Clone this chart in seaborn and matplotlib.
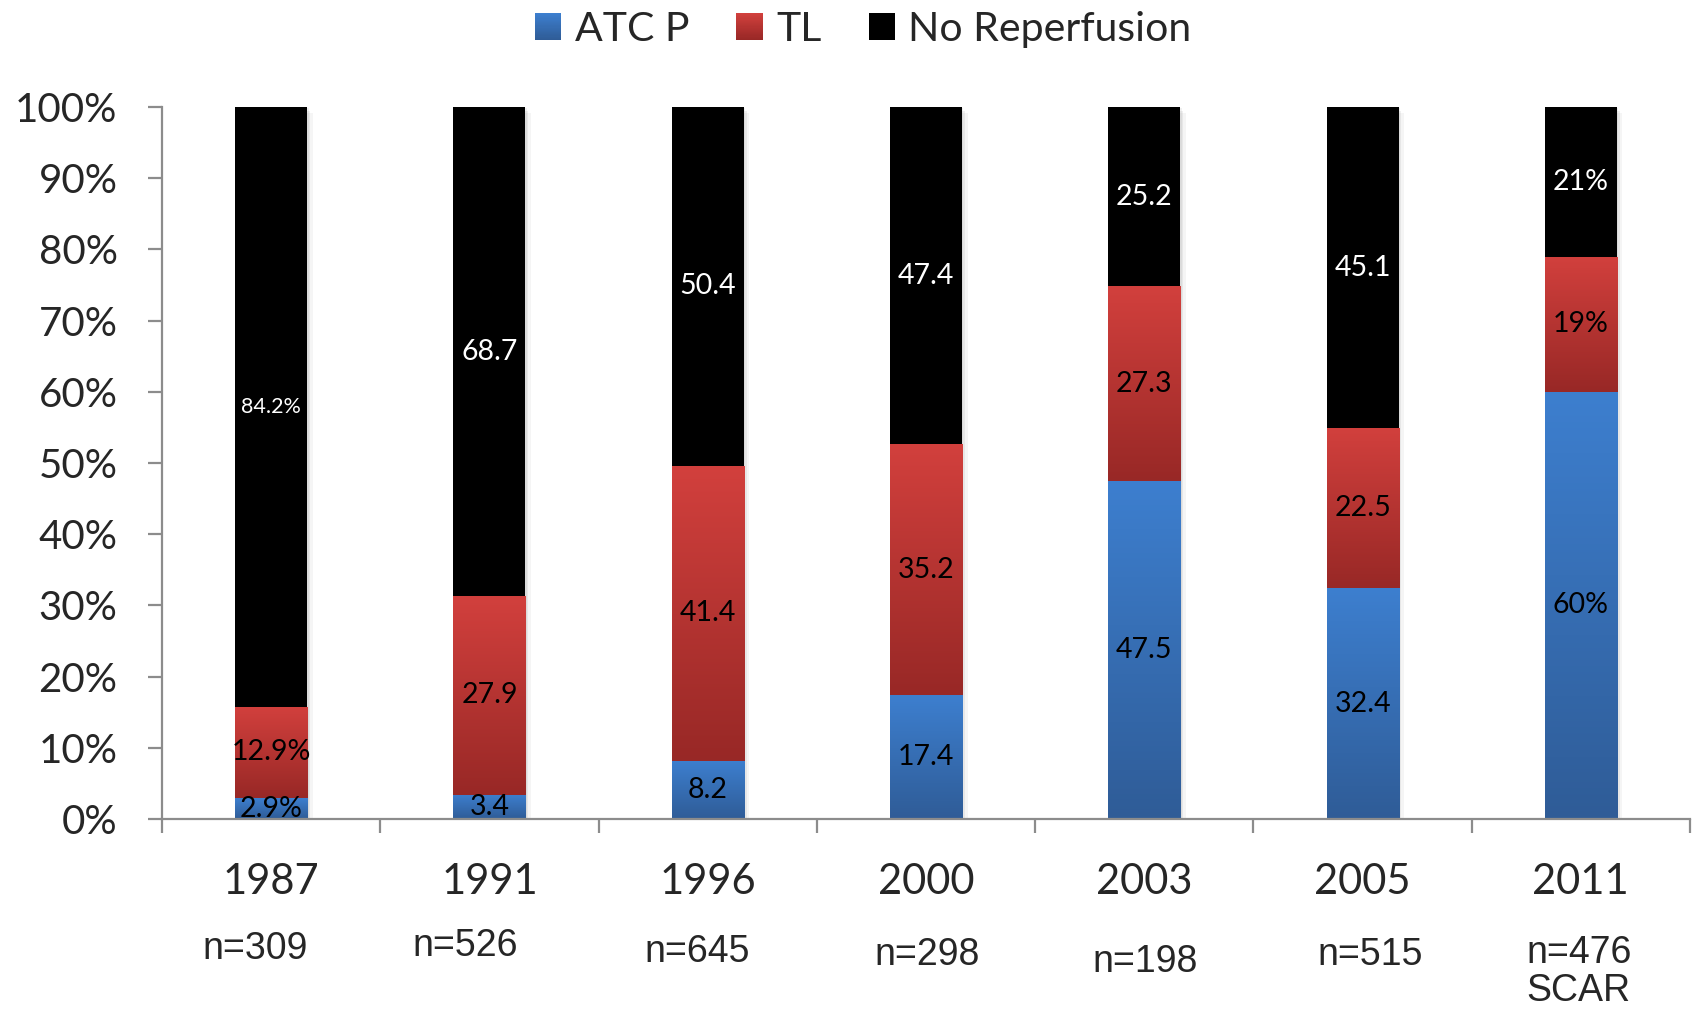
import numpy as np
import matplotlib
matplotlib.use("Agg")
import matplotlib.pyplot as plt
import seaborn as sns
import matplotlib.patheffects as pe
from matplotlib.colors import LinearSegmentedColormap
from matplotlib.patches import Patch, Rectangle
from matplotlib.legend_handler import HandlerBase
from matplotlib.transforms import blended_transform_factory

# ---- data -------------------------------------------------------------
years = ["1987", "1991", "1996", "2000", "2003", "2005", "2011"]
atc_p = [2.9, 3.4, 8.2, 17.4, 47.5, 32.4, 60]
tl = [12.9, 27.9, 41.4, 35.2, 27.3, 22.5, 19]
no_reperfusion = [84.2, 68.7, 50.4, 47.4, 25.2, 45.1, 21]
label_suffix = ["%", "", "", "", "", "", "%"]
sample_sizes = ["n=309", "n=526", "n=645", "n=298", "n=198", "n=515", "n=476\nSCAR"]
series_names = ["ATC P", "TL", "No Reperfusion"]
y_ticks = [0, 10, 20, 30, 40, 50, 60, 70, 80, 90, 100]

# ---- layout / style ---------------------------------------------------
n_x_shift = [-0.073, -0.11, -0.046, 0.005, 0.005, 0.037, -0.01]
n_y_px = [949, 946, 952, 955, 962, 955, 972]
FIG_W, FIG_H = 1696, 1010

sns.set_style("white")
plt.rcParams["font.family"] = ["Lato", "DejaVu Sans"]

blue_cmap = LinearSegmentedColormap.from_list("blue_grad", ["#2f5c97", "#3d7fcf"])
red_cmap = LinearSegmentedColormap.from_list("red_grad", ["#982826", "#d2403d"])

fig = plt.figure(figsize=(FIG_W / 100, FIG_H / 100), dpi=100)
ax = fig.add_axes([162 / FIG_W, 1 - 819 / FIG_H, 1528 / FIG_W, 712 / FIG_H])

bar_w = 0.33
totals = [a + b + c for a, b, c in zip(atc_p, tl, no_reperfusion)]

# soft shadow behind each full stack
sns.barplot(x=years, y=totals, color="white", width=bar_w, errorbar=None,
            ax=ax, zorder=1, linewidth=0)
shadow = ax.containers[-1]
for p in shadow:
    p.set_path_effects([
        pe.SimplePatchShadow(offset=(1, -1), shadow_rgbFace="#888888", alpha=0.12),
        pe.SimplePatchShadow(offset=(2, -3), shadow_rgbFace="#888888", alpha=0.12),
        pe.SimplePatchShadow(offset=(4, -4), shadow_rgbFace="#888888", alpha=0.08),
        pe.Normal(),
    ])

bottom1 = [0] * len(years)
bottom2 = list(atc_p)
bottom3 = [a + b for a, b in zip(atc_p, tl)]

sns.barplot(x=years, y=atc_p, bottom=bottom1, color="#3a78c4", width=bar_w,
            errorbar=None, ax=ax, zorder=2, linewidth=0)
c_atc = ax.containers[-1]
sns.barplot(x=years, y=tl, bottom=bottom2, color="#bf3733", width=bar_w,
            errorbar=None, ax=ax, zorder=2, linewidth=0)
c_tl = ax.containers[-1]
sns.barplot(x=years, y=no_reperfusion, bottom=bottom3, color="black", width=bar_w,
            errorbar=None, ax=ax, zorder=2, linewidth=0)
c_nr = ax.containers[-1]

# vertical gradient fill inside each coloured segment
grad = np.linspace(0, 1, 256).reshape(-1, 1)
for container, cmap in ((c_atc, blue_cmap), (c_tl, red_cmap)):
    for p in container:
        x0, y0, w, h = p.get_x(), p.get_y(), p.get_width(), p.get_height()
        im = ax.imshow(grad, extent=[x0, x0 + w, y0, y0 + h], origin="lower",
                       aspect="auto", cmap=cmap, zorder=3, interpolation="bilinear")
        im.set_clip_path(p)

# value labels
def make_labels(vals):
    return [f"{v:g}{s}" for v, s in zip(vals, label_suffix)]

ax.bar_label(c_atc, labels=make_labels(atc_p), label_type="center",
             fontsize=20.5, color="black", zorder=5)
ax.bar_label(c_tl, labels=make_labels(tl), label_type="center",
             fontsize=20.5, color="black", zorder=5)
nr_texts = ax.bar_label(c_nr, labels=make_labels(no_reperfusion), label_type="center",
                        fontsize=20.5, color="white", zorder=5)
nr_texts[0].set_fontsize(15.5)

# axes styling
ax.set_xlim(-0.5, len(years) - 0.5)
ax.set_ylim(0, 100)
ax.set_yticks(y_ticks)
ax.set_yticklabels([f"{t}%" for t in y_ticks])
ax.set_xlabel("")
ax.set_ylabel("")
ax.set_xticks(range(len(years)))
ax.set_xticklabels(years)
ax.set_xticks(np.arange(-0.5, len(years), 1.0), minor=True)

for side in ("top", "right"):
    ax.spines[side].set_visible(False)
for side in ("left", "bottom"):
    ax.spines[side].set_color("#8c8c8c")
    ax.spines[side].set_linewidth(1.6)
    ax.spines[side].set_zorder(6)

ax.tick_params(axis="y", which="major", direction="out", length=10, width=1.6,
               color="#8c8c8c", labelsize=29, pad=22, left=True)
ax.tick_params(axis="x", which="major", length=0, labelsize=30, pad=32, bottom=True)
ax.tick_params(axis="x", which="minor", direction="out", length=10, width=1.6,
               color="#8c8c8c", bottom=True)

# sample sizes under the year labels
trans = blended_transform_factory(ax.transData, fig.transFigure)
for i, (txt, dx, ypx) in enumerate(zip(sample_sizes, n_x_shift, n_y_px)):
    fig.text(i + dx, 1 - ypx / FIG_H, txt, transform=trans, ha="center", va="center",
             fontsize=27, family=["Liberation Sans", "DejaVu Sans"],
             multialignment="left", linespacing=1.05)


# legend with gradient swatches
class GradientHandler(HandlerBase):
    def __init__(self, cmap=None, solid=None):
        super().__init__()
        self.cmap = cmap
        self.solid = solid

    def create_artists(self, legend, orig_handle, xdescent, ydescent, width,
                       height, fontsize, trans):
        if self.solid is not None:
            return [Rectangle((-xdescent, -ydescent), width, height,
                              facecolor=self.solid, edgecolor="none", transform=trans)]
        n = 24
        arts = []
        for k in range(n):
            arts.append(Rectangle((-xdescent, -ydescent + height * k / n), width,
                                  height / n * 1.05, facecolor=self.cmap(k / (n - 1)),
                                  edgecolor="none", transform=trans))
        return arts


handles = [Patch(facecolor="#3a78c4"), Patch(facecolor="#bf3733"), Patch(facecolor="black")]
fig.legend(handles, series_names, loc="center", bbox_to_anchor=(0.509, 0.971),
           ncol=3, frameon=False, fontsize=29.5, handlelength=0.64, handleheight=0.64,
           handletextpad=0.33, columnspacing=1.15,
           handler_map={handles[0]: GradientHandler(cmap=blue_cmap),
                        handles[1]: GradientHandler(cmap=red_cmap),
                        handles[2]: GradientHandler(solid="black")})

fig.savefig("out.png", dpi=100)
